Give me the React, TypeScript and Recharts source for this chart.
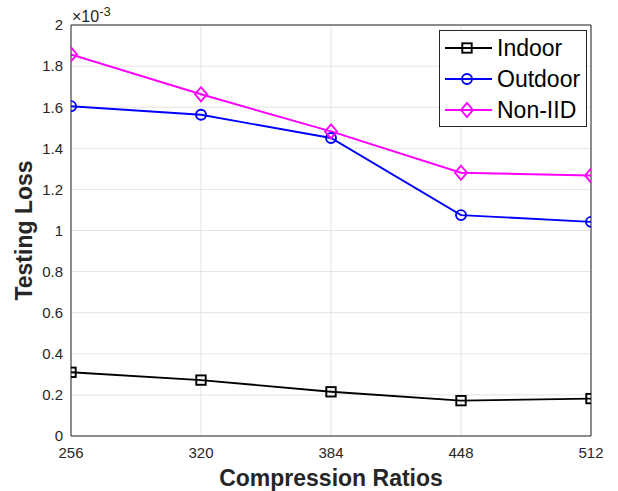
import React from 'react';
import { LineChart, Line, XAxis, YAxis, CartesianGrid, ReferenceLine, Label } from 'recharts';

const ratios = [256, 320, 384, 448, 512];
const indoor = [0.31e-3, 0.272e-3, 0.215e-3, 0.172e-3, 0.182e-3];
const outdoor = [1.605e-3, 1.563e-3, 1.45e-3, 1.075e-3, 1.042e-3];
const nonIid = [1.857e-3, 1.663e-3, 1.482e-3, 1.281e-3, 1.268e-3];
const yTicks = [0, 0.0002, 0.0004, 0.0006, 0.0008, 0.001, 0.0012, 0.0014, 0.0016, 0.0018, 0.002];
const seriesNames = ['Indoor', 'Outdoor', 'Non-IID'];
const seriesColors = ['#000000', '#0000ff', '#ff00ff'];

const data = ratios.map((r, i) => ({ ratio: r, indoor: indoor[i], outdoor: outdoor[i], nonIid: nonIid[i] }));

const FONT = '"Liberation Sans", Arial, Helvetica, sans-serif';
const AXIS = '#262626';

function Marker({ kind, cx, cy, color }: { kind: string; cx: number; cy: number; color: string }) {
  if (kind === 'square') {
    return <rect x={cx - 4.7} y={cy - 4.7} width={9.4} height={9.4} fill="none" stroke={color} strokeWidth={1.9} />;
  }
  if (kind === 'circle') {
    return <circle cx={cx} cy={cy} r={5} fill="none" stroke={color} strokeWidth={1.9} />;
  }
  return (
    <polygon
      points={`${cx},${cy - 7} ${cx + 6},${cy} ${cx},${cy + 7} ${cx - 6},${cy}`}
      fill="none"
      stroke={color}
      strokeWidth={1.9}
    />
  );
}

const kinds = ['square', 'circle', 'diamond'];

const makeDot = (kind: string, color: string) => (props: any) => {
  const { cx, cy, index } = props;
  if (cx == null || cy == null) return <g key={index} />;
  return (
    <g key={`${kind}-${index}`}>
      <Marker kind={kind} cx={cx} cy={cy} color={color} />
    </g>
  );
};

function LegendBox() {
  return (
    <div
      style={{
        position: 'absolute',
        left: 439,
        top: 30,
        width: 146,
        height: 95,
        border: `1px solid ${AXIS}`,
        background: '#fff',
        fontFamily: FONT,
      }}
    >
      {seriesNames.map((name, i) => (
        <div key={name} style={{ position: 'absolute', left: 0, top: 3 + i * 31, height: 28, width: 146 }}>
          <svg width={56} height={28} style={{ position: 'absolute', left: 0, top: 0 }}>
            <line x1={5} y1={14} x2={52} y2={14} stroke={seriesColors[i]} strokeWidth={1.8} />
            <Marker kind={kinds[i]} cx={27} cy={14} color={seriesColors[i]} />
          </svg>
          <span
            style={{
              position: 'absolute',
              left: 57,
              top: 0,
              fontSize: 23,
              lineHeight: '28px',
              color: '#000',
              whiteSpace: 'nowrap',
            }}
          >
            {name}
          </span>
        </div>
      ))}
    </div>
  );
}

export default function App() {
  return (
    <div style={{ position: 'absolute', left: 0, top: 0, width: 618, height: 491, background: '#fff' }}>
      <LineChart
        width={618}
        height={491}
        data={data}
        margin={{ top: 25, right: 27, left: 11, bottom: 15 }}
        style={{ fontFamily: FONT }}
      >
        <CartesianGrid stroke="#e3e3e3" strokeWidth={1} />
        <XAxis
          dataKey="ratio"
          type="number"
          domain={[256, 512]}
          ticks={ratios}
          height={40}
          tickLine={false}
          axisLine={{ stroke: AXIS, strokeWidth: 1 }}
          tickMargin={5}
          tick={{ fill: AXIS, fontSize: 15, fontFamily: FONT }}
          allowDataOverflow
        >
          <Label
            content={(props: any) => {
              const vb = props.viewBox;
              return (
                <text
                  x={vb.x + vb.width / 2}
                  y={vb.y + vb.height + 10}
                  textAnchor="middle"
                  fontSize={23}
                  fontWeight="bold"
                  fill={AXIS}
                  fontFamily={FONT}
                >
                  Compression Ratios
                </text>
              );
            }}
          />
        </XAxis>
        <YAxis
          type="number"
          domain={[0, 0.002]}
          ticks={yTicks}
          width={60}
          tickLine={false}
          axisLine={{ stroke: AXIS, strokeWidth: 1 }}
          tickMargin={2}
          tick={{ fill: AXIS, fontSize: 15, fontFamily: FONT }}
          tickFormatter={(v: number) => String(parseFloat((v * 1000).toFixed(1)))}
          allowDataOverflow
        >
          <Label
            content={(props: any) => {
              const vb = props.viewBox;
              const cx = 32;
              const cy = vb.y + vb.height / 2;
              return (
                <g>
                  <text
                    x={cx}
                    y={cy}
                    transform={`rotate(-90, ${cx}, ${cy})`}
                    textAnchor="middle"
                    fontSize={23}
                    fontWeight="bold"
                    fill={AXIS}
                    fontFamily={FONT}
                  >
                    Testing Loss
                  </text>
                  <text x={vb.x + vb.width + 1} y={vb.y - 3} fontSize={16} fill={AXIS} fontFamily={FONT}>
                    <tspan>×10</tspan>
                    <tspan dy={-6} fontSize={13}>-3</tspan>
                  </text>
                </g>
              );
            }}
          />
        </YAxis>
        <ReferenceLine y={0.002} stroke={AXIS} strokeWidth={1} ifOverflow="extendDomain" />
        <ReferenceLine x={512} stroke={AXIS} strokeWidth={1} ifOverflow="extendDomain" />
        <Line
          dataKey="indoor"
          name="Indoor"
          stroke={seriesColors[0]}
          strokeWidth={1.9}
          dot={makeDot('square', seriesColors[0])}
          activeDot={false}
          isAnimationActive={false}
        />
        <Line
          dataKey="outdoor"
          name="Outdoor"
          stroke={seriesColors[1]}
          strokeWidth={1.9}
          dot={makeDot('circle', seriesColors[1])}
          activeDot={false}
          isAnimationActive={false}
        />
        <Line
          dataKey="nonIid"
          name="Non-IID"
          stroke={seriesColors[2]}
          strokeWidth={1.9}
          dot={makeDot('diamond', seriesColors[2])}
          activeDot={false}
          isAnimationActive={false}
        />
      </LineChart>
      <LegendBox />
    </div>
  );
}
